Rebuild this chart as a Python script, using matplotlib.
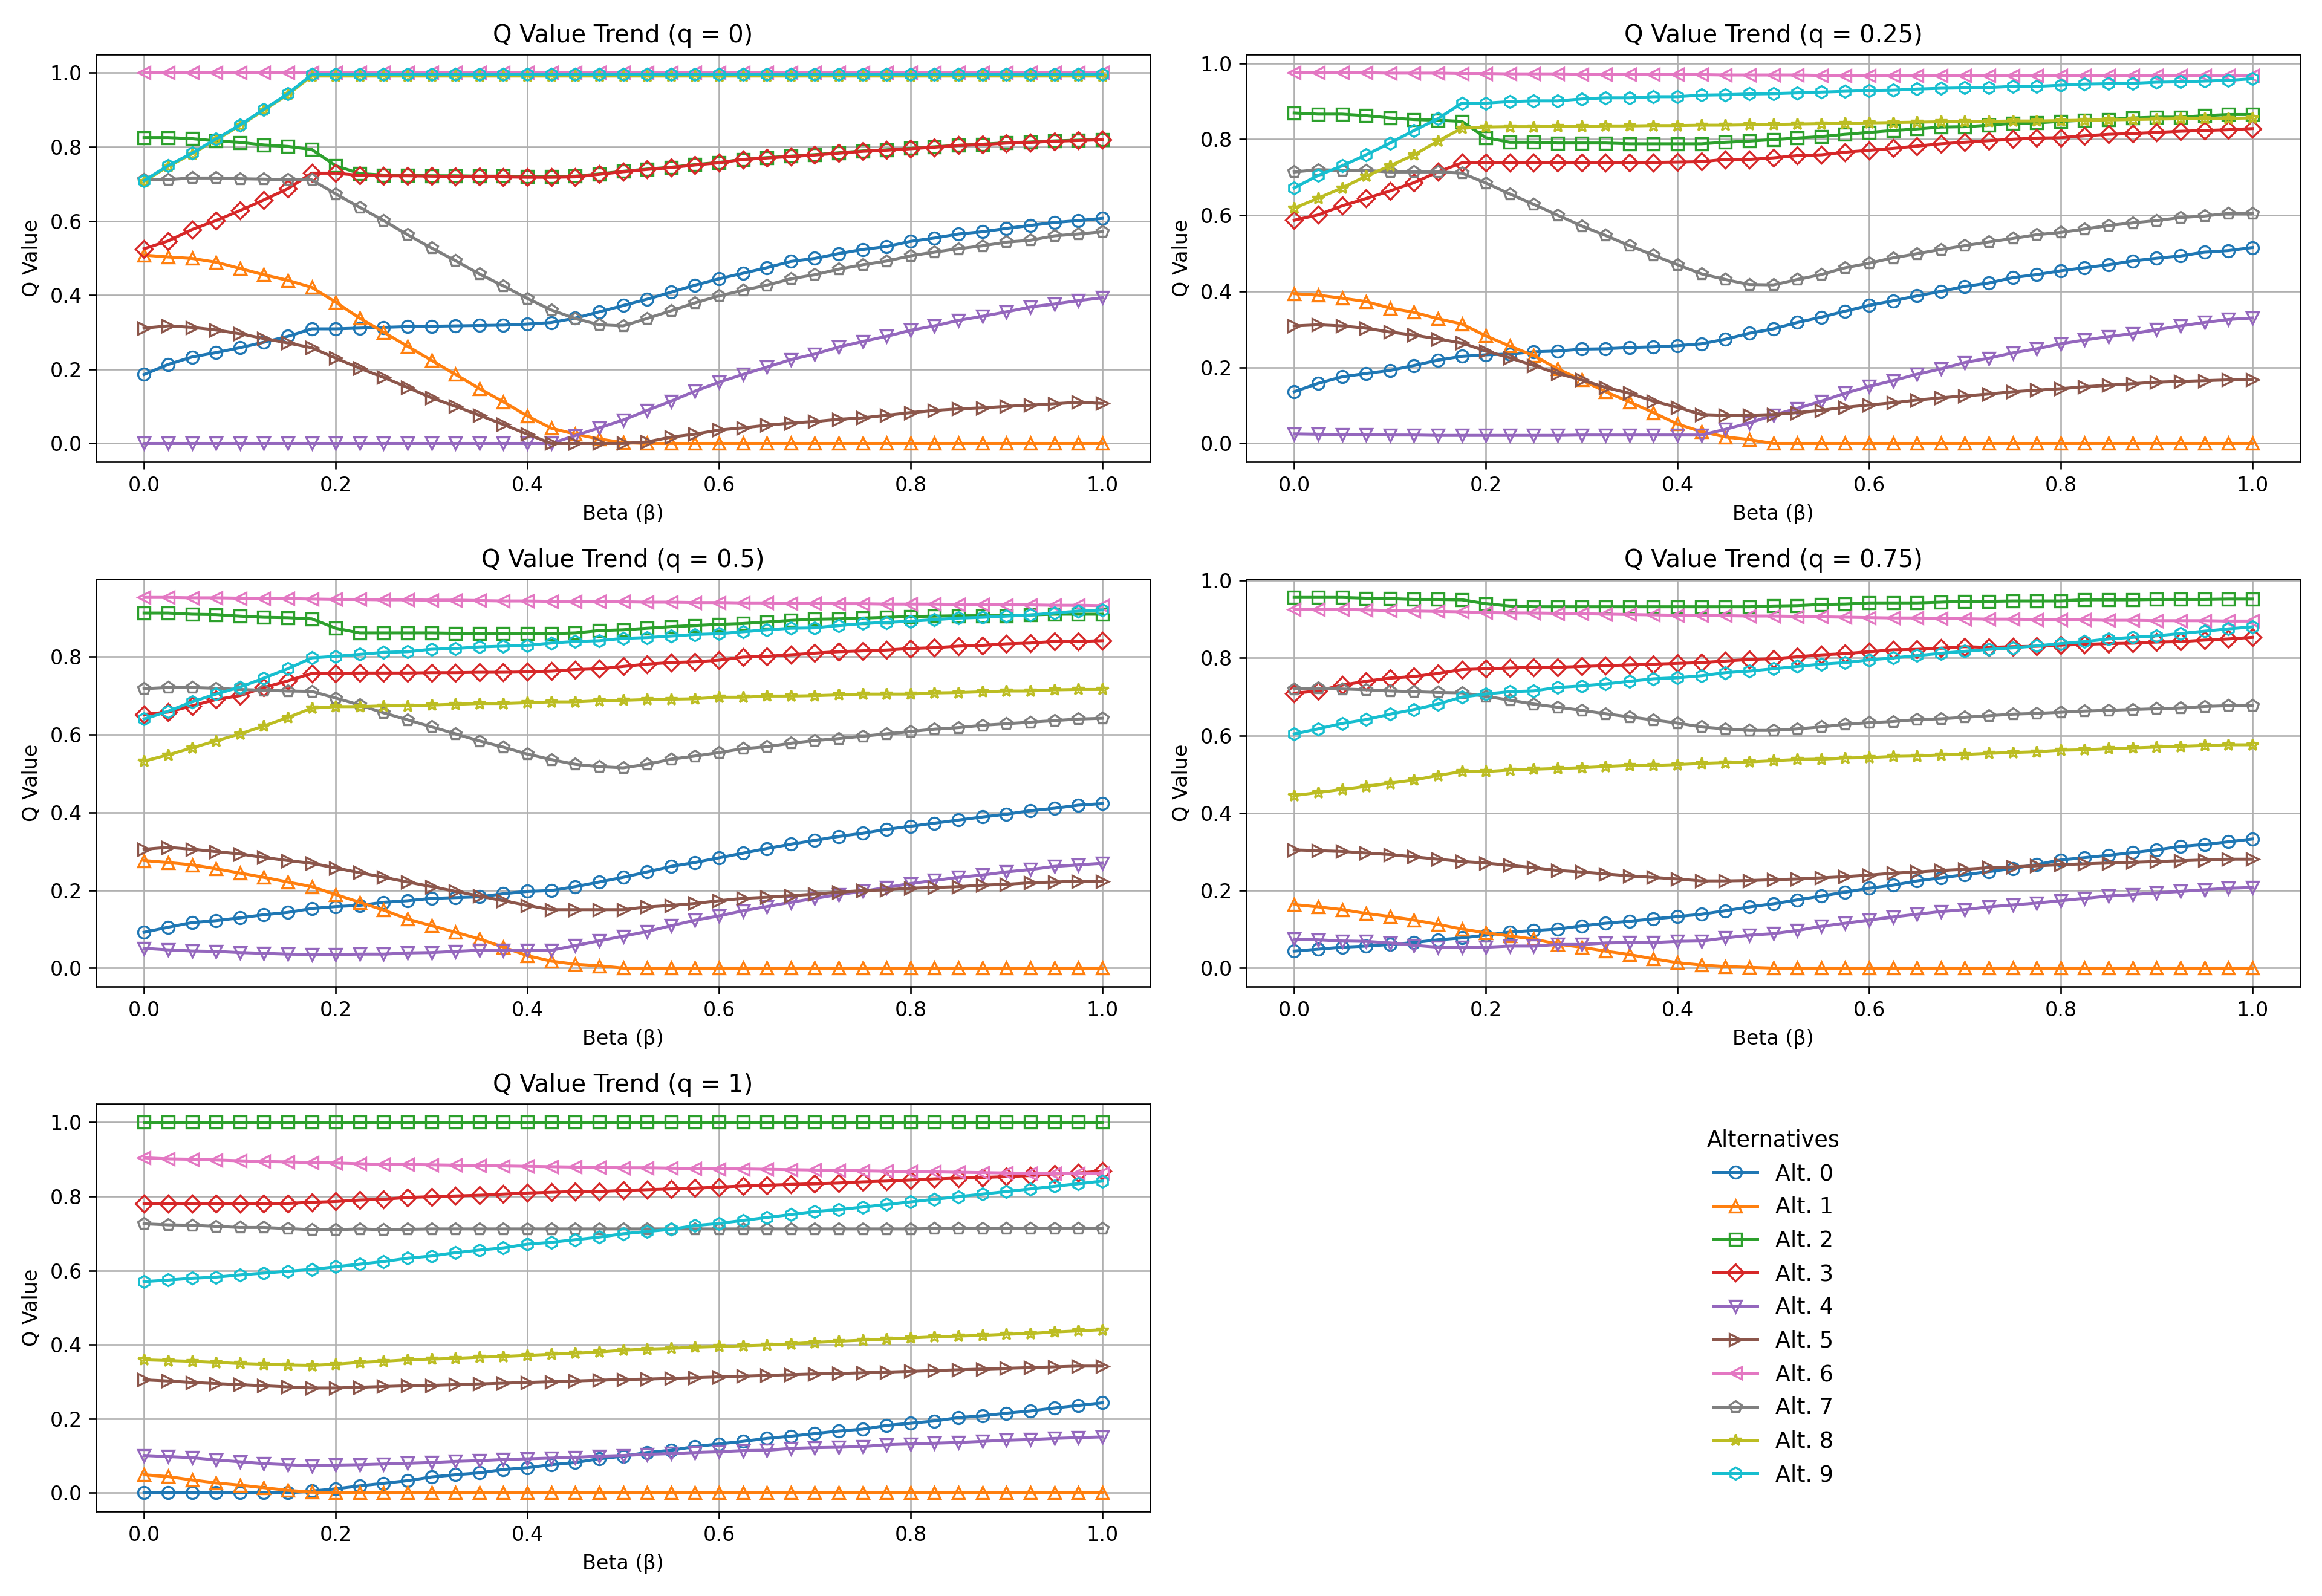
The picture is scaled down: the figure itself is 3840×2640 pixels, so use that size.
import matplotlib
matplotlib.use('Agg')
import matplotlib.pyplot as plt

# Beta grid (x axis)
betas = [0.0, 0.025, 0.05, 0.075, 0.1, 0.125, 0.15, 0.175, 0.2, 0.225,
         0.25, 0.275, 0.3, 0.325, 0.35, 0.375, 0.4, 0.425, 0.45, 0.475,
         0.5, 0.525, 0.55, 0.575, 0.6, 0.625, 0.65, 0.675, 0.7, 0.725,
         0.75, 0.775, 0.8, 0.825, 0.85, 0.875, 0.9, 0.925, 0.95, 0.975,
         1.0]

q_labels = ['0', '0.25', '0.5', '0.75', '1']
alt_labels = ['Alt. 0', 'Alt. 1', 'Alt. 2', 'Alt. 3', 'Alt. 4',
              'Alt. 5', 'Alt. 6', 'Alt. 7', 'Alt. 8', 'Alt. 9']

# Q values, q = 0 (one list per alternative)
q0_values = [
    [0.186, 0.213, 0.233, 0.245, 0.258, 0.273, 0.289, 0.309, 0.309, 0.311,
     0.313, 0.315, 0.316, 0.317, 0.318, 0.319, 0.322, 0.326, 0.338, 0.355,
     0.372, 0.389, 0.408, 0.427, 0.444, 0.459, 0.474, 0.491, 0.499, 0.512,
     0.523, 0.531, 0.545, 0.554, 0.565, 0.571, 0.580, 0.588, 0.596, 0.601,
     0.607],
    [0.508, 0.503, 0.499, 0.489, 0.472, 0.455, 0.440, 0.421, 0.381, 0.338,
     0.300, 0.262, 0.224, 0.186, 0.148, 0.112, 0.074, 0.041, 0.025, 0.012,
     0.002, 0.0, 0.0, 0.0, 0.0, 0.0, 0.0, 0.0, 0.0, 0.0,
     0.0, 0.0, 0.0, 0.0, 0.0, 0.0, 0.0, 0.0, 0.0, 0.0,
     0.0],
    [0.825, 0.825, 0.822, 0.816, 0.812, 0.805, 0.801, 0.793, 0.749, 0.728,
     0.724, 0.723, 0.722, 0.722, 0.721, 0.721, 0.720, 0.720, 0.721, 0.727,
     0.734, 0.740, 0.745, 0.752, 0.758, 0.766, 0.771, 0.775, 0.779, 0.784,
     0.789, 0.792, 0.796, 0.800, 0.804, 0.807, 0.811, 0.813, 0.816, 0.818,
     0.820],
    [0.525, 0.546, 0.577, 0.601, 0.628, 0.657, 0.687, 0.729, 0.729, 0.723,
     0.722, 0.722, 0.721, 0.720, 0.720, 0.719, 0.718, 0.718, 0.719, 0.726,
     0.733, 0.739, 0.744, 0.751, 0.757, 0.766, 0.770, 0.774, 0.778, 0.783,
     0.788, 0.791, 0.795, 0.799, 0.804, 0.806, 0.810, 0.812, 0.815, 0.817,
     0.819],
    [0.0, 0.0, 0.0, 0.0, 0.0, 0.0, 0.0, 0.0, 0.0, 0.0,
     0.0, 0.0, 0.0, 0.0, 0.0, 0.0, 0.0, 0.0, 0.021, 0.042,
     0.063, 0.089, 0.114, 0.141, 0.165, 0.186, 0.206, 0.226, 0.241, 0.260,
     0.275, 0.289, 0.305, 0.317, 0.332, 0.343, 0.355, 0.368, 0.376, 0.385,
     0.393],
    [0.311, 0.317, 0.313, 0.306, 0.296, 0.283, 0.271, 0.258, 0.230, 0.203,
     0.178, 0.151, 0.123, 0.100, 0.076, 0.051, 0.025, 0.0, 0.0, 0.0,
     0.0, 0.004, 0.017, 0.025, 0.036, 0.042, 0.049, 0.055, 0.059, 0.065,
     0.069, 0.076, 0.083, 0.089, 0.093, 0.096, 0.100, 0.103, 0.107, 0.111,
     0.108],
    [1.0, 1.0, 1.0, 1.0, 1.0, 1.0, 1.0, 1.0, 1.0, 1.0,
     1.0, 1.0, 1.0, 1.0, 1.0, 1.0, 1.0, 1.0, 1.0, 1.0,
     1.0, 1.0, 1.0, 1.0, 1.0, 1.0, 1.0, 1.0, 1.0, 1.0,
     1.0, 1.0, 1.0, 1.0, 1.0, 1.0, 1.0, 1.0, 1.0, 1.0,
     1.0],
    [0.712, 0.712, 0.716, 0.716, 0.714, 0.713, 0.711, 0.711, 0.673, 0.637,
     0.601, 0.563, 0.527, 0.493, 0.457, 0.425, 0.391, 0.360, 0.337, 0.320,
     0.317, 0.337, 0.358, 0.379, 0.398, 0.413, 0.427, 0.444, 0.455, 0.470,
     0.482, 0.492, 0.506, 0.516, 0.525, 0.533, 0.543, 0.548, 0.560, 0.565,
     0.571],
    [0.707, 0.747, 0.781, 0.819, 0.857, 0.899, 0.941, 0.991, 0.991, 0.991,
     0.991, 0.991, 0.991, 0.991, 0.991, 0.991, 0.991, 0.991, 0.991, 0.991,
     0.991, 0.991, 0.991, 0.991, 0.991, 0.991, 0.991, 0.991, 0.991, 0.991,
     0.991, 0.991, 0.991, 0.991, 0.991, 0.991, 0.991, 0.991, 0.991, 0.991,
     0.991],
    [0.709, 0.749, 0.783, 0.821, 0.859, 0.901, 0.943, 0.995, 0.995, 0.995,
     0.995, 0.995, 0.995, 0.995, 0.995, 0.995, 0.995, 0.995, 0.995, 0.995,
     0.995, 0.995, 0.995, 0.995, 0.995, 0.995, 0.995, 0.995, 0.995, 0.995,
     0.995, 0.995, 0.995, 0.995, 0.995, 0.995, 0.995, 0.995, 0.995, 0.995,
     0.995],
]

# Q values, q = 0.25
q025_values = [
    [0.136, 0.158, 0.175, 0.184, 0.192, 0.205, 0.219, 0.229, 0.233, 0.235,
     0.241, 0.243, 0.248, 0.249, 0.252, 0.254, 0.257, 0.262, 0.274, 0.290,
     0.301, 0.318, 0.332, 0.348, 0.363, 0.375, 0.388, 0.400, 0.413, 0.422,
     0.436, 0.444, 0.454, 0.462, 0.470, 0.480, 0.487, 0.493, 0.503, 0.507,
     0.515],
    [0.394, 0.390, 0.382, 0.373, 0.356, 0.345, 0.328, 0.314, 0.283, 0.256,
     0.231, 0.196, 0.167, 0.136, 0.109, 0.081, 0.051, 0.031, 0.017, 0.010,
     0.0, 0.0, 0.0, 0.0, 0.0, 0.0, 0.0, 0.0, 0.0, 0.0,
     0.0, 0.0, 0.0, 0.0, 0.0, 0.0, 0.0, 0.0, 0.0, 0.0,
     0.0],
    [0.869, 0.866, 0.866, 0.862, 0.856, 0.852, 0.850, 0.847, 0.804, 0.792,
     0.792, 0.790, 0.790, 0.790, 0.788, 0.788, 0.788, 0.788, 0.792, 0.795,
     0.799, 0.803, 0.807, 0.813, 0.818, 0.823, 0.827, 0.832, 0.833, 0.837,
     0.842, 0.843, 0.847, 0.850, 0.852, 0.856, 0.858, 0.858, 0.862, 0.865,
     0.865],
    [0.587, 0.601, 0.625, 0.644, 0.664, 0.686, 0.714, 0.738, 0.738, 0.738,
     0.739, 0.739, 0.739, 0.739, 0.739, 0.739, 0.740, 0.741, 0.747, 0.747,
     0.751, 0.757, 0.759, 0.766, 0.771, 0.776, 0.782, 0.788, 0.792, 0.796,
     0.800, 0.803, 0.804, 0.809, 0.813, 0.815, 0.818, 0.821, 0.823, 0.825,
     0.828],
    [0.025, 0.024, 0.023, 0.023, 0.022, 0.022, 0.021, 0.021, 0.021, 0.021,
     0.021, 0.021, 0.022, 0.022, 0.022, 0.022, 0.022, 0.022, 0.037, 0.054,
     0.074, 0.092, 0.111, 0.132, 0.150, 0.165, 0.182, 0.196, 0.213, 0.224,
     0.238, 0.249, 0.262, 0.272, 0.281, 0.289, 0.299, 0.309, 0.318, 0.326,
     0.330],
    [0.309, 0.312, 0.309, 0.303, 0.293, 0.285, 0.275, 0.264, 0.243, 0.225,
     0.205, 0.184, 0.167, 0.147, 0.132, 0.111, 0.095, 0.076, 0.074, 0.074,
     0.076, 0.081, 0.087, 0.095, 0.101, 0.107, 0.114, 0.120, 0.125, 0.130,
     0.136, 0.140, 0.144, 0.149, 0.153, 0.157, 0.161, 0.163, 0.165, 0.167,
     0.167],
    [0.975, 0.975, 0.975, 0.975, 0.974, 0.974, 0.974, 0.973, 0.973, 0.972,
     0.972, 0.972, 0.971, 0.971, 0.971, 0.970, 0.970, 0.970, 0.969, 0.969,
     0.969, 0.969, 0.968, 0.968, 0.968, 0.968, 0.968, 0.967, 0.967, 0.967,
     0.967, 0.967, 0.967, 0.967, 0.967, 0.967, 0.967, 0.967, 0.967, 0.967,
     0.967],
    [0.714, 0.720, 0.718, 0.718, 0.714, 0.714, 0.714, 0.711, 0.685, 0.656,
     0.629, 0.600, 0.572, 0.547, 0.520, 0.495, 0.470, 0.446, 0.431, 0.418,
     0.417, 0.431, 0.444, 0.462, 0.474, 0.488, 0.499, 0.510, 0.520, 0.530,
     0.539, 0.549, 0.555, 0.564, 0.573, 0.580, 0.586, 0.594, 0.598, 0.605,
     0.605],
    [0.619, 0.645, 0.672, 0.703, 0.730, 0.759, 0.795, 0.829, 0.832, 0.833,
     0.833, 0.834, 0.834, 0.835, 0.835, 0.836, 0.836, 0.837, 0.837, 0.838,
     0.839, 0.840, 0.841, 0.842, 0.843, 0.844, 0.845, 0.846, 0.846, 0.847,
     0.848, 0.848, 0.849, 0.850, 0.851, 0.852, 0.853, 0.854, 0.855, 0.855,
     0.856],
    [0.672, 0.705, 0.730, 0.759, 0.790, 0.823, 0.854, 0.895, 0.895, 0.899,
     0.901, 0.901, 0.906, 0.909, 0.909, 0.912, 0.912, 0.916, 0.917, 0.919,
     0.920, 0.922, 0.924, 0.926, 0.928, 0.929, 0.932, 0.934, 0.935, 0.936,
     0.939, 0.939, 0.942, 0.945, 0.946, 0.947, 0.950, 0.951, 0.953, 0.955,
     0.959],
]

# Q values, q = 0.5
q05_values = [
    [0.092, 0.105, 0.117, 0.122, 0.129, 0.137, 0.143, 0.153, 0.158, 0.161,
     0.169, 0.173, 0.179, 0.181, 0.183, 0.191, 0.197, 0.199, 0.209, 0.221,
     0.233, 0.247, 0.261, 0.271, 0.283, 0.295, 0.307, 0.318, 0.328, 0.338,
     0.346, 0.356, 0.364, 0.372, 0.380, 0.388, 0.395, 0.404, 0.410, 0.418,
     0.422],
    [0.276, 0.271, 0.265, 0.255, 0.244, 0.233, 0.221, 0.209, 0.189, 0.169,
     0.149, 0.126, 0.109, 0.092, 0.075, 0.054, 0.032, 0.018, 0.010, 0.006,
     0.0, 0.0, 0.0, 0.0, 0.0, 0.0, 0.0, 0.0, 0.0, 0.0,
     0.0, 0.0, 0.0, 0.0, 0.0, 0.0, 0.0, 0.0, 0.0, 0.0,
     0.0],
    [0.911, 0.911, 0.908, 0.907, 0.903, 0.900, 0.899, 0.896, 0.872, 0.860,
     0.860, 0.860, 0.860, 0.859, 0.859, 0.859, 0.858, 0.858, 0.860, 0.866,
     0.868, 0.872, 0.876, 0.879, 0.882, 0.884, 0.888, 0.892, 0.895, 0.896,
     0.898, 0.900, 0.902, 0.903, 0.904, 0.904, 0.904, 0.906, 0.908, 0.908,
     0.908],
    [0.651, 0.657, 0.673, 0.689, 0.699, 0.720, 0.737, 0.756, 0.756, 0.757,
     0.757, 0.757, 0.758, 0.758, 0.759, 0.759, 0.760, 0.762, 0.766, 0.768,
     0.774, 0.780, 0.784, 0.786, 0.790, 0.798, 0.800, 0.804, 0.808, 0.812,
     0.814, 0.816, 0.820, 0.822, 0.826, 0.828, 0.832, 0.834, 0.838, 0.838,
     0.840],
    [0.051, 0.047, 0.044, 0.043, 0.040, 0.038, 0.036, 0.035, 0.035, 0.036,
     0.036, 0.039, 0.040, 0.043, 0.046, 0.046, 0.046, 0.046, 0.058, 0.070,
     0.082, 0.094, 0.109, 0.123, 0.134, 0.147, 0.158, 0.169, 0.179, 0.189,
     0.197, 0.207, 0.217, 0.225, 0.233, 0.239, 0.247, 0.253, 0.261, 0.265,
     0.269],
    [0.305, 0.310, 0.305, 0.299, 0.293, 0.284, 0.276, 0.269, 0.257, 0.245,
     0.233, 0.221, 0.209, 0.197, 0.185, 0.173, 0.161, 0.150, 0.150, 0.150,
     0.150, 0.157, 0.161, 0.166, 0.173, 0.179, 0.182, 0.186, 0.190, 0.195,
     0.199, 0.201, 0.205, 0.207, 0.209, 0.213, 0.215, 0.219, 0.221, 0.223,
     0.223],
    [0.951, 0.951, 0.950, 0.950, 0.949, 0.949, 0.948, 0.947, 0.946, 0.946,
     0.945, 0.945, 0.944, 0.944, 0.943, 0.942, 0.942, 0.941, 0.941, 0.940,
     0.940, 0.939, 0.939, 0.938, 0.938, 0.937, 0.937, 0.936, 0.936, 0.935,
     0.935, 0.934, 0.934, 0.934, 0.933, 0.933, 0.932, 0.932, 0.931, 0.931,
     0.930],
    [0.717, 0.720, 0.720, 0.718, 0.715, 0.713, 0.711, 0.710, 0.693, 0.675,
     0.655, 0.637, 0.619, 0.601, 0.583, 0.567, 0.549, 0.535, 0.523, 0.517,
     0.514, 0.523, 0.536, 0.544, 0.553, 0.563, 0.568, 0.577, 0.584, 0.589,
     0.595, 0.601, 0.607, 0.613, 0.617, 0.623, 0.627, 0.631, 0.635, 0.639,
     0.641],
    [0.531, 0.547, 0.565, 0.583, 0.601, 0.621, 0.643, 0.667, 0.671, 0.671,
     0.673, 0.673, 0.675, 0.677, 0.679, 0.679, 0.681, 0.683, 0.683, 0.686,
     0.687, 0.689, 0.690, 0.691, 0.695, 0.695, 0.698, 0.698, 0.699, 0.701,
     0.703, 0.703, 0.703, 0.706, 0.707, 0.709, 0.711, 0.711, 0.714, 0.715,
     0.715],
    [0.639, 0.659, 0.683, 0.703, 0.721, 0.744, 0.768, 0.796, 0.800, 0.805,
     0.810, 0.812, 0.818, 0.820, 0.824, 0.826, 0.828, 0.834, 0.838, 0.840,
     0.846, 0.848, 0.852, 0.856, 0.858, 0.863, 0.868, 0.872, 0.873, 0.879,
     0.884, 0.887, 0.890, 0.894, 0.898, 0.900, 0.903, 0.906, 0.911, 0.916,
     0.919],
]

# Q values, q = 0.75
q075_values = [
    [0.044, 0.049, 0.054, 0.057, 0.061, 0.066, 0.073, 0.078, 0.085, 0.093,
     0.097, 0.101, 0.109, 0.116, 0.121, 0.127, 0.133, 0.139, 0.148, 0.158,
     0.166, 0.176, 0.186, 0.196, 0.206, 0.214, 0.225, 0.233, 0.241, 0.249,
     0.257, 0.267, 0.279, 0.285, 0.291, 0.298, 0.305, 0.314, 0.319, 0.326,
     0.333],
    [0.164, 0.158, 0.151, 0.141, 0.133, 0.124, 0.113, 0.101, 0.091, 0.083,
     0.075, 0.062, 0.054, 0.044, 0.035, 0.024, 0.014, 0.008, 0.004, 0.002,
     0.0, 0.0, 0.0, 0.0, 0.0, 0.0, 0.0, 0.0, 0.0, 0.0,
     0.0, 0.0, 0.0, 0.0, 0.0, 0.0, 0.0, 0.0, 0.0, 0.0,
     0.0],
    [0.956, 0.956, 0.956, 0.954, 0.953, 0.951, 0.951, 0.950, 0.940, 0.934,
     0.932, 0.932, 0.932, 0.932, 0.932, 0.932, 0.932, 0.932, 0.932, 0.932,
     0.934, 0.935, 0.938, 0.939, 0.942, 0.942, 0.942, 0.944, 0.946, 0.946,
     0.947, 0.947, 0.947, 0.950, 0.950, 0.950, 0.951, 0.951, 0.951, 0.952,
     0.952],
    [0.709, 0.715, 0.730, 0.740, 0.748, 0.752, 0.760, 0.770, 0.772, 0.774,
     0.776, 0.776, 0.778, 0.780, 0.782, 0.784, 0.786, 0.788, 0.792, 0.796,
     0.798, 0.803, 0.808, 0.811, 0.816, 0.821, 0.822, 0.825, 0.829, 0.827,
     0.829, 0.830, 0.833, 0.835, 0.837, 0.838, 0.841, 0.842, 0.846, 0.849,
     0.853],
    [0.075, 0.073, 0.070, 0.069, 0.065, 0.059, 0.054, 0.053, 0.054, 0.057,
     0.057, 0.061, 0.061, 0.065, 0.066, 0.066, 0.069, 0.070, 0.078, 0.085,
     0.089, 0.097, 0.108, 0.116, 0.124, 0.132, 0.139, 0.146, 0.151, 0.158,
     0.163, 0.168, 0.174, 0.180, 0.186, 0.190, 0.194, 0.198, 0.202, 0.206,
     0.208],
    [0.305, 0.303, 0.301, 0.297, 0.293, 0.287, 0.281, 0.275, 0.271, 0.265,
     0.259, 0.252, 0.248, 0.243, 0.238, 0.234, 0.230, 0.225, 0.225, 0.226,
     0.228, 0.230, 0.233, 0.236, 0.240, 0.245, 0.248, 0.252, 0.255, 0.259,
     0.261, 0.264, 0.267, 0.269, 0.271, 0.273, 0.275, 0.277, 0.279, 0.281,
     0.281],
    [0.926, 0.925, 0.925, 0.924, 0.922, 0.921, 0.920, 0.919, 0.917, 0.916,
     0.916, 0.915, 0.914, 0.913, 0.912, 0.911, 0.910, 0.909, 0.909, 0.908,
     0.908, 0.907, 0.906, 0.905, 0.904, 0.903, 0.903, 0.902, 0.901, 0.900,
     0.900, 0.899, 0.898, 0.898, 0.897, 0.897, 0.896, 0.896, 0.896, 0.895,
     0.895],
    [0.720, 0.722, 0.720, 0.718, 0.715, 0.713, 0.711, 0.710, 0.701, 0.691,
     0.681, 0.673, 0.665, 0.656, 0.648, 0.640, 0.632, 0.622, 0.617, 0.613,
     0.613, 0.617, 0.622, 0.629, 0.633, 0.636, 0.641, 0.643, 0.647, 0.651,
     0.655, 0.657, 0.660, 0.663, 0.665, 0.667, 0.669, 0.671, 0.675, 0.677,
     0.677],
    [0.445, 0.453, 0.461, 0.469, 0.477, 0.485, 0.497, 0.507, 0.507, 0.511,
     0.513, 0.515, 0.517, 0.520, 0.523, 0.523, 0.525, 0.528, 0.530, 0.532,
     0.535, 0.538, 0.539, 0.542, 0.543, 0.546, 0.547, 0.550, 0.551, 0.554,
     0.556, 0.558, 0.562, 0.563, 0.566, 0.568, 0.570, 0.572, 0.574, 0.576,
     0.576],
    [0.604, 0.617, 0.631, 0.641, 0.655, 0.667, 0.681, 0.699, 0.707, 0.713,
     0.715, 0.724, 0.728, 0.733, 0.740, 0.746, 0.749, 0.754, 0.762, 0.766,
     0.772, 0.778, 0.784, 0.788, 0.795, 0.800, 0.806, 0.812, 0.817, 0.822,
     0.826, 0.831, 0.837, 0.842, 0.849, 0.853, 0.857, 0.863, 0.869, 0.875,
     0.880],
]

# Q values, q = 1
q1_values = [
    [0.0, 0.0, 0.0, 0.0, 0.0, 0.0, 0.0, 0.005, 0.011, 0.019,
     0.026, 0.033, 0.043, 0.049, 0.054, 0.063, 0.068, 0.076, 0.082, 0.092,
     0.099, 0.109, 0.115, 0.125, 0.132, 0.139, 0.147, 0.153, 0.160, 0.167,
     0.172, 0.182, 0.188, 0.194, 0.203, 0.208, 0.215, 0.221, 0.229, 0.236,
     0.243],
    [0.049, 0.044, 0.035, 0.027, 0.021, 0.014, 0.007, 0.002, 0.0, 0.0,
     0.0, 0.0, 0.0, 0.0, 0.0, 0.0, 0.0, 0.0, 0.0, 0.0,
     0.0, 0.0, 0.0, 0.0, 0.0, 0.0, 0.0, 0.0, 0.0, 0.0,
     0.0, 0.0, 0.0, 0.0, 0.0, 0.0, 0.0, 0.0, 0.0, 0.0,
     0.0],
    [1.0, 1.0, 1.0, 1.0, 1.0, 1.0, 1.0, 1.0, 1.0, 1.0,
     1.0, 1.0, 1.0, 1.0, 1.0, 1.0, 1.0, 1.0, 1.0, 1.0,
     1.0, 1.0, 1.0, 1.0, 1.0, 1.0, 1.0, 1.0, 1.0, 1.0,
     1.0, 1.0, 1.0, 1.0, 1.0, 1.0, 1.0, 1.0, 1.0, 1.0,
     1.0],
    [0.780, 0.780, 0.780, 0.780, 0.781, 0.781, 0.781, 0.784, 0.786, 0.790,
     0.792, 0.797, 0.799, 0.801, 0.803, 0.806, 0.809, 0.811, 0.813, 0.813,
     0.816, 0.818, 0.820, 0.822, 0.825, 0.828, 0.830, 0.832, 0.834, 0.836,
     0.839, 0.841, 0.844, 0.847, 0.849, 0.851, 0.853, 0.856, 0.860, 0.863,
     0.868],
    [0.101, 0.098, 0.095, 0.089, 0.084, 0.079, 0.076, 0.073, 0.075, 0.076,
     0.078, 0.080, 0.082, 0.085, 0.087, 0.090, 0.092, 0.094, 0.096, 0.099,
     0.101, 0.104, 0.106, 0.109, 0.111, 0.114, 0.115, 0.120, 0.122, 0.123,
     0.125, 0.130, 0.132, 0.134, 0.136, 0.139, 0.142, 0.144, 0.147, 0.149,
     0.151],
    [0.305, 0.302, 0.298, 0.295, 0.292, 0.289, 0.286, 0.283, 0.283, 0.285,
     0.287, 0.289, 0.290, 0.292, 0.294, 0.296, 0.298, 0.300, 0.302, 0.304,
     0.306, 0.307, 0.309, 0.311, 0.313, 0.315, 0.317, 0.319, 0.321, 0.322,
     0.324, 0.326, 0.328, 0.330, 0.332, 0.334, 0.336, 0.338, 0.340, 0.342,
     0.342],
    [0.904, 0.901, 0.900, 0.898, 0.896, 0.894, 0.893, 0.891, 0.890, 0.888,
     0.886, 0.886, 0.885, 0.884, 0.883, 0.882, 0.881, 0.880, 0.879, 0.878,
     0.877, 0.877, 0.876, 0.875, 0.874, 0.874, 0.873, 0.872, 0.871, 0.870,
     0.869, 0.868, 0.866, 0.866, 0.865, 0.864, 0.863, 0.862, 0.862, 0.861,
     0.861],
    [0.726, 0.723, 0.722, 0.719, 0.716, 0.716, 0.713, 0.710, 0.710, 0.712,
     0.710, 0.711, 0.712, 0.712, 0.712, 0.712, 0.712, 0.712, 0.712, 0.712,
     0.712, 0.712, 0.712, 0.712, 0.712, 0.712, 0.712, 0.712, 0.712, 0.712,
     0.712, 0.712, 0.712, 0.713, 0.713, 0.713, 0.713, 0.713, 0.713, 0.713,
     0.713],
    [0.359, 0.357, 0.355, 0.352, 0.349, 0.347, 0.345, 0.344, 0.347, 0.352,
     0.355, 0.359, 0.361, 0.363, 0.366, 0.368, 0.371, 0.374, 0.377, 0.380,
     0.385, 0.388, 0.390, 0.393, 0.395, 0.397, 0.399, 0.402, 0.406, 0.409,
     0.412, 0.415, 0.418, 0.421, 0.423, 0.425, 0.428, 0.430, 0.434, 0.437,
     0.440],
    [0.570, 0.574, 0.579, 0.582, 0.588, 0.593, 0.598, 0.603, 0.610, 0.617,
     0.624, 0.633, 0.639, 0.648, 0.655, 0.661, 0.671, 0.676, 0.683, 0.690,
     0.699, 0.705, 0.711, 0.721, 0.727, 0.735, 0.743, 0.751, 0.759, 0.764,
     0.771, 0.778, 0.785, 0.792, 0.799, 0.806, 0.813, 0.820, 0.827, 0.834,
     0.841],
]

all_values = [q0_values, q025_values, q05_values, q075_values, q1_values]
markers = ['o', '^', 's', 'D', 'v', '>', '<', 'p', '*', 'h']

fig, axes = plt.subplots(3, 2, figsize=(16, 11))
flat = axes.flatten()

for ax, q, values in zip(flat, q_labels, all_values):
    for i, vals in enumerate(values):
        ax.plot(betas, vals, marker=markers[i], markerfacecolor='none',
                label=alt_labels[i])
    ax.set_title(f'Q Value Trend (q = {q})')
    ax.set_xlabel('Beta (β)')
    ax.set_ylabel('Q Value')
    ax.grid(True)

# last cell only holds the shared legend
handles, labels = flat[0].get_legend_handles_labels()
flat[5].axis('off')
flat[5].legend(handles, labels, title='Alternatives', loc='center',
               frameon=False, fontsize=11, title_fontsize=11)

plt.tight_layout()
plt.savefig('out.png', dpi=240)
